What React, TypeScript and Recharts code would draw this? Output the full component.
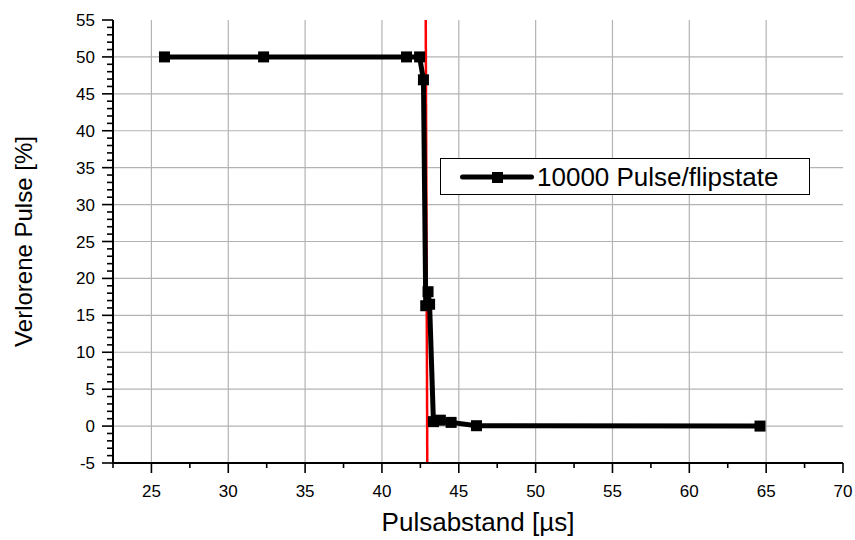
import React from 'react';
import {
  ComposedChart,
  Line,
  XAxis,
  YAxis,
  ReferenceLine,
} from 'recharts';

// measured points (Pulsabstand in µs, lost pulses in %)
const pulsabstand = [25.85, 32.3, 41.6, 42.45, 42.7, 42.85, 43.0, 43.1, 43.35, 43.8, 44.5, 46.15, 64.6];
const verloren = [50, 50, 50, 50, 46.9, 16.3, 18.2, 16.5, 0.6, 0.8, 0.5, 0.05, 0];

const xMajor = [25, 30, 35, 40, 45, 50, 55, 60, 65, 70];
const yMajor = [-5, 0, 5, 10, 15, 20, 25, 30, 35, 40, 45, 50, 55];
const xGrid = [25, 30, 35, 40, 45, 50, 55, 60, 65];
const yGrid = [0, 5, 10, 15, 20, 25, 30, 35, 40, 45, 50];

// red threshold marker
const threshold = [
  { x: 42.85, y: 55 },
  { x: 42.95, y: -5 },
];

const seriesName = '10000 Pulse/flipstate';

const xTicks = [22.5, ...xMajor.flatMap((v) => [v, v + 2.5])].filter((v) => v <= 70);
const yTicks = yMajor.flatMap((v) => [v, v + 1, v + 2, v + 3, v + 4]).filter((v) => v <= 55);

const data = pulsabstand.map((x, i) => ({ x, y: verloren[i] }));

const isMajor = (v: number, step: number) => Math.abs(v % step) < 1e-6;

const BottomTick = ({ x, y, payload }: any) => {
  const major = isMajor(payload.value, 5);
  return (
    <g>
      <line x1={x} x2={x} y1={y} y2={y + (major ? 10 : 5)} stroke="#000" strokeWidth={1.6} />
      {major && (
        <text x={x} y={y + 34} textAnchor="middle" fontSize={17} fill="#000">
          {payload.value}
        </text>
      )}
    </g>
  );
};

const TopTick = ({ x, y, payload }: any) => {
  const major = isMajor(payload.value, 5);
  return <line x1={x} x2={x} y1={y} y2={y + (major ? 10 : 5)} stroke="#000" strokeWidth={1.6} />;
};

const LeftTick = ({ x, y, payload }: any) => {
  const major = isMajor(payload.value, 5);
  return (
    <g>
      <line x1={x - (major ? 11 : 6)} x2={x} y1={y} y2={y} stroke="#000" strokeWidth={1.6} />
      {major && (
        <text x={x - 18} y={y + 6} textAnchor="end" fontSize={17} fill="#000">
          {payload.value}
        </text>
      )}
    </g>
  );
};

const RightTick = ({ x, y, payload }: any) => {
  const major = isMajor(payload.value, 5);
  return <line x1={x - (major ? 11 : 6)} x2={x} y1={y} y2={y} stroke="#000" strokeWidth={1.6} />;
};

const SquareDot = ({ cx, cy }: any) => {
  if (cx == null || cy == null) return null;
  return <rect x={cx - 5.5} y={cy - 5.5} width={11} height={11} fill="#000" />;
};

const axisLine = { stroke: '#000', strokeWidth: 2 };

export default function App() {
  return (
    <div
      style={{
        position: 'absolute',
        left: 0,
        top: 0,
        width: 855,
        height: 540,
        background: '#fff',
        fontFamily: '"Liberation Sans", Arial, sans-serif',
      }}
    >
      <ComposedChart
        width={855}
        height={540}
        data={data}
        margin={{ top: 20, right: 12, bottom: 0, left: 0 }}
      >
        <XAxis
          xAxisId="b"
          dataKey="x"
          type="number"
          domain={[22.5, 70]}
          ticks={xTicks}
          interval={0}
          height={77}
          tickSize={0}
          tickMargin={0}
          tickLine={false}
          axisLine={axisLine}
          tick={<BottomTick />}
          allowDataOverflow
          label={{
            value: 'Pulsabstand [µs]',
            position: 'insideBottom',
            offset: 9,
            fontSize: 26,
            fill: '#000',
          }}
        />
        <XAxis
          xAxisId="t"
          dataKey="x"
          type="number"
          orientation="top"
          domain={[22.5, 70]}
          ticks={xTicks}
          interval={0}
          height={0}
          tickSize={0}
          tickMargin={0}
          tickLine={false}
          axisLine={axisLine}
          tick={<TopTick />}
          allowDataOverflow
        />
        <YAxis
          yAxisId="l"
          type="number"
          domain={[-5, 55]}
          ticks={yTicks}
          interval={0}
          width={113}
          tickSize={0}
          tickMargin={0}
          tickLine={false}
          axisLine={axisLine}
          tick={<LeftTick />}
          allowDataOverflow
          label={{
            value: 'Verlorene Pulse [%]',
            angle: -90,
            position: 'insideLeft',
            offset: 23,
            fontSize: 24,
            fill: '#000',
            style: { textAnchor: 'middle' },
          }}
        />
        <YAxis
          yAxisId="r"
          type="number"
          orientation="right"
          domain={[-5, 55]}
          ticks={yTicks}
          interval={0}
          width={0}
          tickSize={0}
          tickMargin={0}
          tickLine={false}
          axisLine={axisLine}
          tick={<RightTick />}
          allowDataOverflow
        />

        {xGrid.map((v) => (
          <ReferenceLine key={`gx${v}`} xAxisId="b" yAxisId="l" x={v} stroke="#b3b3b3" strokeWidth={1.2} />
        ))}
        {yGrid.map((v) => (
          <ReferenceLine key={`gy${v}`} xAxisId="b" yAxisId="l" y={v} stroke="#b3b3b3" strokeWidth={1.2} />
        ))}

        <ReferenceLine
          xAxisId="b"
          yAxisId="l"
          segment={threshold}
          stroke="#ff0000"
          strokeWidth={2.5}
        />

        <Line
          xAxisId="t"
          yAxisId="r"
          dataKey="y"
          stroke="none"
          dot={false}
          legendType="none"
          isAnimationActive={false}
        />
        <Line
          xAxisId="b"
          yAxisId="l"
          dataKey="y"
          name={seriesName}
          type="linear"
          stroke="#000"
          strokeWidth={5}
          dot={<SquareDot />}
          activeDot={false}
          isAnimationActive={false}
        />
      </ComposedChart>

      <div
        style={{
          position: 'absolute',
          left: 440,
          top: 158,
          width: 370,
          height: 37,
          border: '1.5px solid #000',
          background: '#fff',
          display: 'flex',
          alignItems: 'center',
          boxSizing: 'border-box',
        }}
      >
        <svg width={76} height={20} style={{ marginLeft: 19 }}>
          <line x1={2.5} x2={71.5} y1={10} y2={10} stroke="#000" strokeWidth={5} strokeLinecap="round" />
          <rect x={32} y={5} width={11} height={11} fill="#000" />
        </svg>
        <span style={{ fontSize: 26, color: '#000', marginLeft: 1, lineHeight: 1 }}>{seriesName}</span>
      </div>
    </div>
  );
}
